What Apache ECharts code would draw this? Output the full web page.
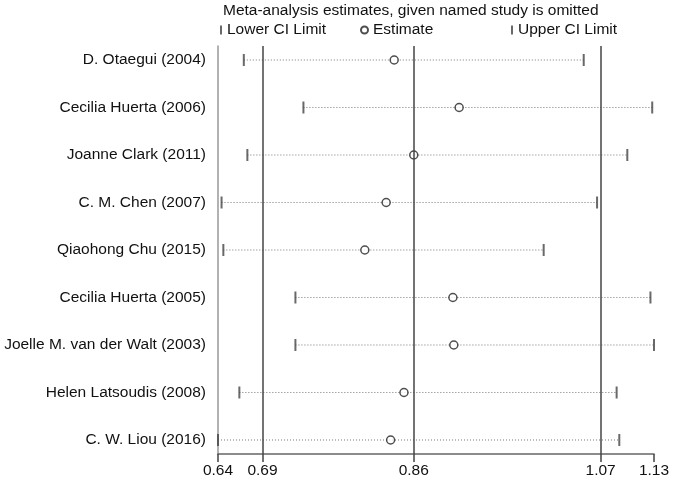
<!DOCTYPE html>
<html>
<head>
<meta charset="utf-8">
<script src="https://cdn.jsdelivr.net/npm/echarts@6/dist/echarts.min.js"></script>
<style>html,body{margin:0;padding:0;background:#fff;}#c{width:675px;height:480px;}</style>
</head>
<body>
<div id="c"></div>
<script>
var studies = ['D. Otaegui (2004)', 'Cecilia Huerta (2006)', 'Joanne Clark (2011)', 'C. M. Chen (2007)', 'Qiaohong Chu (2015)', 'Cecilia Huerta (2005)', 'Joelle M. van der Walt (2003)', 'Helen Latsoudis (2008)', 'C. W. Liou (2016)'];
var estimates = [0.838, 0.911, 0.860, 0.829, 0.805, 0.904, 0.905, 0.849, 0.834];
var lowerCI = [0.669, 0.736, 0.673, 0.644, 0.646, 0.727, 0.727, 0.664, 0.640];
var upperCI = [1.051, 1.128, 1.100, 1.066, 1.006, 1.126, 1.130, 1.088, 1.091];
var xTicks = [0.64, 0.69, 0.86, 1.07, 1.13];
var refLines = [0.69, 0.86, 1.07];

var FONT = 'Liberation Sans, Arial, sans-serif';
var rowIdx = studies.map(function (s, i) { return i; });

var chart = echarts.init(document.getElementById('c'), null, { renderer: 'canvas' });
chart.setOption({
  animation: false,
  backgroundColor: '#fff',
  textStyle: { fontFamily: FONT },
  title: {
    text: 'Meta-analysis estimates, given named study is omitted',
    left: 218, top: -2,
    textStyle: { fontSize: 15.5, fontWeight: 'normal', color: '#111', fontFamily: FONT }
  },
  legend: [
    { data: [{ name: 'Lower CI Limit', icon: 'rect' }], left: 215, top: 17, itemWidth: 2, itemHeight: 9,
      textStyle: { fontSize: 15.5, color: '#111', fontFamily: FONT }, selectedMode: false },
    { data: [{ name: 'Estimate', icon: 'circle' }], left: 355, top: 17, itemWidth: 7, itemHeight: 7,
      textStyle: { fontSize: 15.5, color: '#111', fontFamily: FONT }, selectedMode: false },
    { data: [{ name: 'Upper CI Limit', icon: 'rect' }], left: 506, top: 17, itemWidth: 2, itemHeight: 9,
      textStyle: { fontSize: 15.5, color: '#111', fontFamily: FONT }, selectedMode: false }
  ],
  grid: { left: 218, right: 21, top: 46, bottom: 26, containLabel: false },
  xAxis: {
    type: 'value', min: 0.64, max: 1.13, position: 'bottom',
    axisLine: { show: true, onZero: false, lineStyle: { color: '#666', width: 1.5 } },
    axisTick: { show: true, customValues: xTicks, length: 8, lineStyle: { color: '#444', width: 1.5 } },
    axisLabel: { customValues: xTicks, fontSize: 15.5, color: '#111', margin: 9, fontFamily: FONT,
      formatter: function (v) { return v.toFixed(2); } },
    splitLine: { show: false }
  },
  yAxis: {
    type: 'value', inverse: true, min: -0.295, max: 8.295,
    axisLine: { show: true, onZero: false, lineStyle: { color: '#999', width: 1.5 } },
    axisTick: { show: false },
    axisLabel: { customValues: rowIdx, fontSize: 15.5, color: '#111', margin: 12, fontFamily: FONT,
      formatter: function (v) { return studies[Math.round(v)] || ''; } },
    splitLine: { show: false }
  },
  series: [
    {
      name: 'CI', type: 'custom', silent: true,
      data: rowIdx.map(function (i) { return [i, lowerCI[i], upperCI[i]]; }),
      encode: { x: [1, 2], y: 0 },
      renderItem: function (params, api) {
        var a = api.coord([api.value(1), api.value(0)]);
        var b = api.coord([api.value(2), api.value(0)]);
        return { type: 'line', shape: { x1: a[0], y1: a[1], x2: b[0], y2: b[1] },
          style: { stroke: '#777', lineWidth: 1, lineDash: [1, 2] } };
      },
      z: 1
    },
    {
      name: 'Lower CI Limit', type: 'scatter', symbol: 'rect', symbolSize: [2, 12],
      data: rowIdx.map(function (i) { return [lowerCI[i], i]; }),
      itemStyle: { color: '#444' }, z: 3
    },
    {
      name: 'Upper CI Limit', type: 'scatter', symbol: 'rect', symbolSize: [2, 12],
      data: rowIdx.map(function (i) { return [upperCI[i], i]; }),
      itemStyle: { color: '#444' }, z: 3
    },
    {
      name: 'Estimate', type: 'scatter', symbol: 'circle', symbolSize: 8,
      data: rowIdx.map(function (i) { return [estimates[i], i]; }),
      itemStyle: { color: '#fff', borderColor: '#222', borderWidth: 1.5 }, z: 4,
      markLine: {
        silent: true, symbol: 'none', label: { show: false },
        lineStyle: { type: 'solid', color: '#444', width: 1.5 },
        data: refLines.map(function (v) { return { xAxis: v }; })
      }
    }
  ]
});
</script>
</body>
</html>
